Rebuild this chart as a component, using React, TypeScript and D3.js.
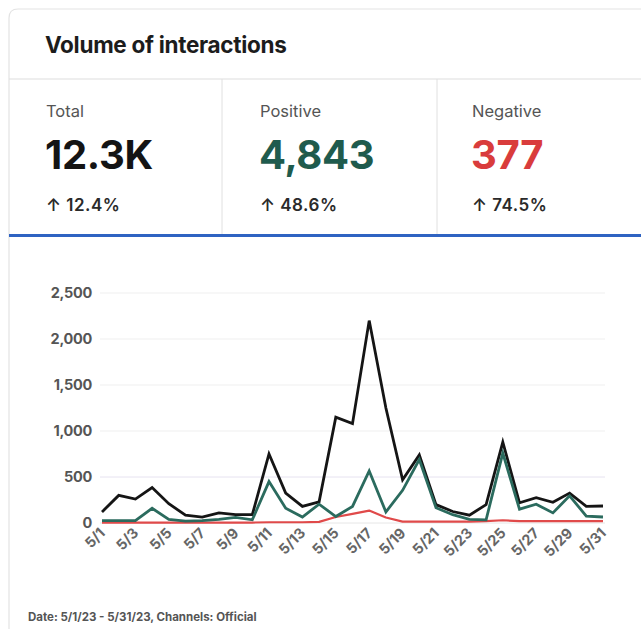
import React from "react";
import * as d3 from "d3";

const dates = Array.from({ length: 31 }, (_, i) => `5/${i + 1}`);
const totalSeries = [120, 300, 260, 385, 210, 85, 65, 110, 90, 90, 750, 325, 180, 230, 1150, 1080, 2200, 1250, 470, 740, 200, 125, 85, 200, 880, 220, 275, 225, 325, 180, 185];
const positiveSeries = [25, 25, 25, 160, 40, 20, 25, 40, 60, 35, 450, 160, 65, 205, 70, 180, 565, 120, 355, 690, 165, 90, 40, 35, 760, 150, 205, 110, 295, 75, 65];
const negativeSeries = [5, 5, 5, 5, 5, 5, 5, 5, 5, 5, 8, 8, 8, 12, 65, 100, 135, 60, 15, 15, 15, 15, 15, 20, 30, 20, 20, 20, 20, 20, 20];
const yTicks = [0, 500, 1000, 1500, 2000, 2500];
const tickDates = dates.filter((_, i) => i % 2 === 0);

const kpiLabels = ["Total", "Positive", "Negative"];
const kpiValues = ["12.3K", "4,843", "377"];
const kpiChanges = ["12.4%", "48.6%", "74.5%"];
const kpiColors = ["#141414", "#1f5b4d", "#d93c3c"];

const font = "Inter, 'Liberation Sans', Arial, sans-serif";

export default function App() {
  const W = 641, H = 629;
  const x = d3.scalePoint<string>().domain(dates).range([102, 603]);
  const y = d3.scaleLinear().domain([0, 2500]).range([523, 293]);
  const line = d3
    .line<number>()
    .x((_, i) => x(dates[i]) as number)
    .y((d) => y(d));
  const kpiX = [46, 260, 472];

  return (
    <svg width={W} height={H} style={{ position: "absolute", left: 0, top: 0, background: "#fff" }} fontFamily={font}>
      {/* card */}
      <path d={`M9,${H} L9,18 Q9,9 18,9 L${W},9`} fill="none" stroke="#e3e3e3" strokeWidth={1.2} />
      <line x1={9} x2={W} y1={79} y2={79} stroke="#dedede" strokeWidth={1.2} />
      <text x={45} y={53} fontSize={22.5} fontWeight={700} fill="#1c1c1c" letterSpacing={-0.3}>Volume of interactions</text>
      <line x1={222} x2={222} y1={79} y2={235} stroke="#e0e0e0" />
      <line x1={437} x2={437} y1={79} y2={235} stroke="#e0e0e0" />
      {kpiLabels.map((lab, i) => (
        <g key={lab}>
          <text x={kpiX[i]} y={117} fontSize={16.5} fill="#555">{lab}</text>
          <text x={kpiX[i] - 1} y={169} fontSize={40} fontWeight={700} fill={kpiColors[i]} letterSpacing={-0.3}>{kpiValues[i]}</text>
          <text x={kpiX[i]} y={211} fontSize={17} fontWeight={600} fill="#2a2a2a" letterSpacing={0.5}>{"\u2191 " + kpiChanges[i]}</text>
        </g>
      ))}
      <line x1={9} x2={W} y1={235.5} y2={235.5} stroke="#2f63c2" strokeWidth={3} />

      {/* grid */}
      {yTicks.map((t) => (
        <g key={t}>
          <line x1={100} x2={605} y1={y(t)} y2={y(t)} stroke={t === 0 ? "#e6e6e6" : t === 500 ? "#e6e2f0" : "#efefef"} strokeWidth={1} />
          <text x={92} y={y(t) + 5} fontSize={14.5} fontWeight={700} fill="#555" textAnchor="end" letterSpacing={-0.3}>{d3.format(",")(t)}</text>
        </g>
      ))}
      {tickDates.map((d) => (
        <text key={d} transform={`translate(${(x(d) as number) + 4},${534}) rotate(-45)`} fontSize={14.5} fontWeight={700} fill="#666" textAnchor="end">{d}</text>
      ))}

      {/* lines */}
      <path d={line(negativeSeries) || ""} fill="none" stroke="#e04a4a" strokeWidth={2.2} strokeLinejoin="round" />
      <path d={line(totalSeries) || ""} fill="none" stroke="#151515" strokeWidth={2.8} strokeLinejoin="miter" />
      <path d={line(positiveSeries) || ""} fill="none" stroke="#2b6b5e" strokeWidth={2.8} strokeLinejoin="miter" />

      <text x={28} y={621} fontSize={11.5} fontWeight={700} fill="#555">Date: 5/1/23 - 5/31/23, Channels: Official</text>
    </svg>
  );
}
